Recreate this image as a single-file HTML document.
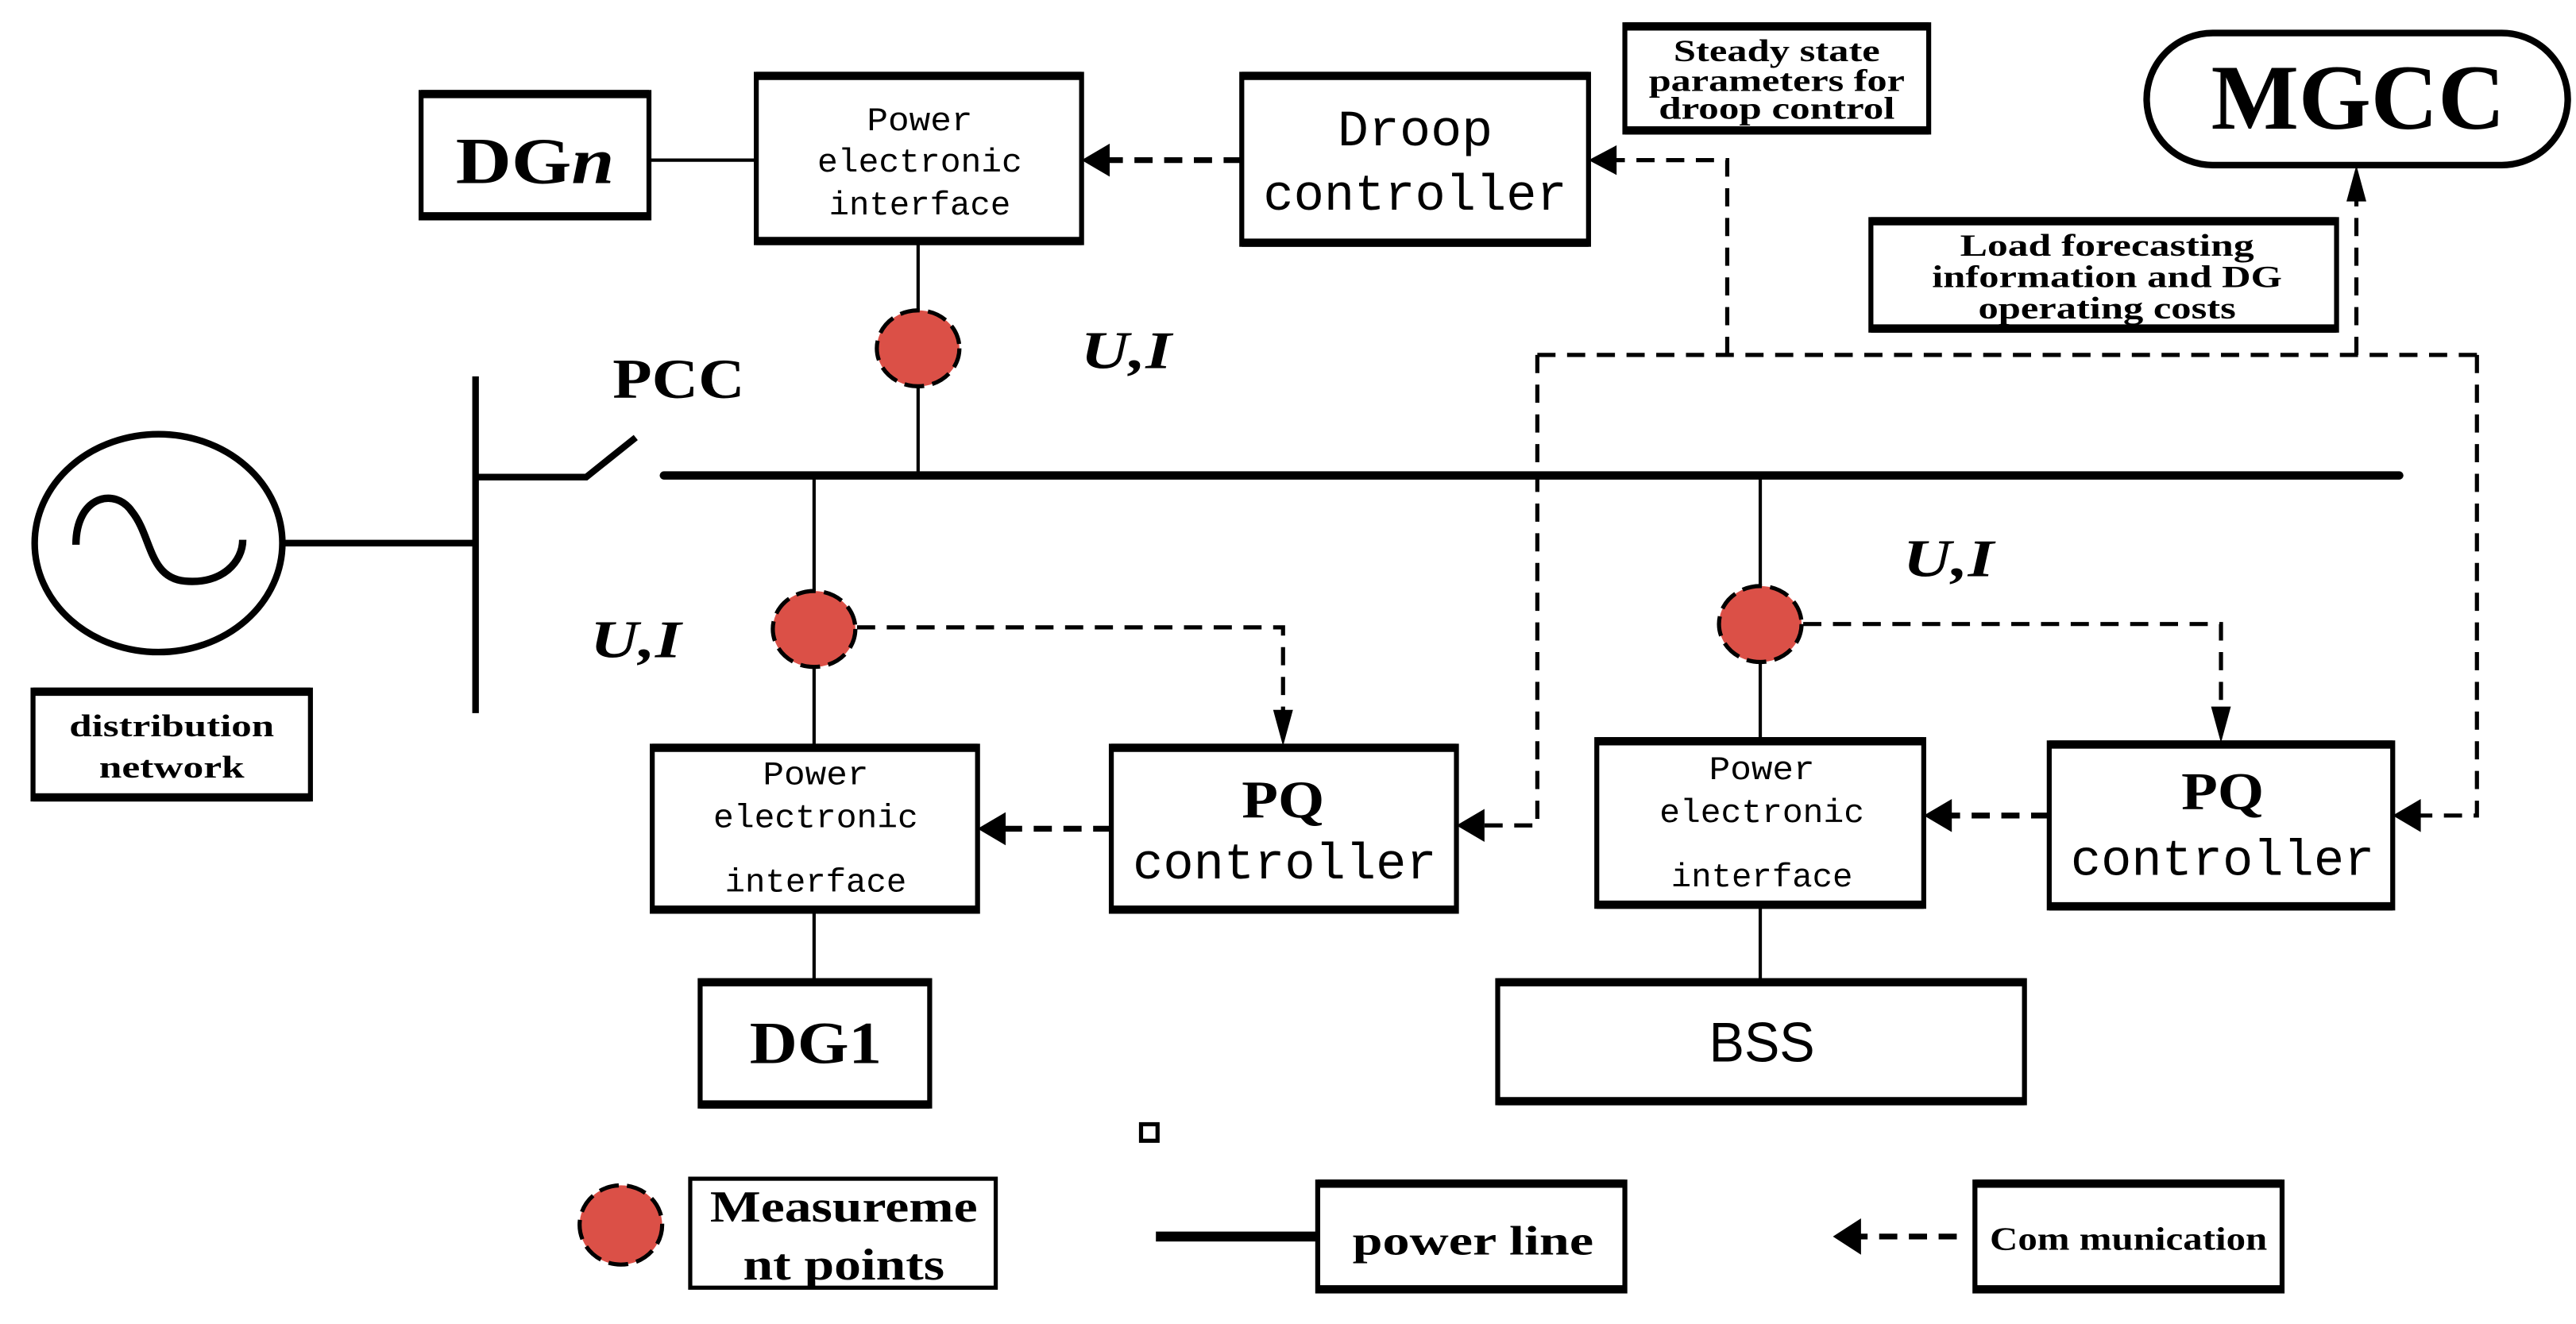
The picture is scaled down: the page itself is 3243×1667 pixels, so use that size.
<!DOCTYPE html>
<html><head><meta charset="utf-8"><style>html,body{margin:0;padding:0;background:#fff}svg{display:block}</style></head>
<body>
<svg width="3243" height="1667" viewBox="0 0 1560 802" preserveAspectRatio="none" xmlns="http://www.w3.org/2000/svg">
<g fill="none" stroke="#000">
<!-- generator -->
<ellipse cx="96" cy="329" rx="75" ry="66" stroke-width="4"/>
<path d="M46,330 C46,300 70,295 80,310 C92,325 90,350 112,352 C135,354 147,340 147,327" stroke-width="4.5"/>
<line x1="171" y1="329" x2="288" y2="329" stroke-width="4"/>
<line x1="288" y1="228" x2="288" y2="432" stroke-width="4"/>
<polyline points="288,289 355,289 385,265" stroke-width="4"/>
<line x1="402" y1="288" x2="1453" y2="288" stroke-width="5" stroke-linecap="round"/>
<!-- thin power lines -->
<line x1="393" y1="97" x2="458" y2="97" stroke-width="2"/>
<line x1="556" y1="147" x2="556" y2="288" stroke-width="2"/>
<line x1="493" y1="288" x2="493" y2="452" stroke-width="2"/>
<line x1="493" y1="552" x2="493" y2="594" stroke-width="2"/>
<line x1="1066" y1="288" x2="1066" y2="448" stroke-width="2"/>
<line x1="1066" y1="549" x2="1066" y2="594" stroke-width="2"/>
<!-- dashed comms -->
<g stroke-width="2.5" stroke-dasharray="11,7">
<line x1="752" y1="97" x2="668" y2="97" stroke-width="3.5"/>
<polyline points="1046,215 1046,97 975,97"/>
<line x1="931" y1="215" x2="1500" y2="215"/>
<line x1="1427" y1="215" x2="1427" y2="112"/>
<polyline points="931,215 931,500 895,500"/>
<polyline points="1500,215 1500,494 1462,494"/>
<polyline points="519,380 777,380 777,438"/>
<polyline points="1092,378 1345,378 1345,436"/>
<line x1="673" y1="502" x2="605" y2="502" stroke-width="3.5"/>
<line x1="1241" y1="494" x2="1178" y2="494" stroke-width="3.5"/>
<line x1="1185" y1="749" x2="1125" y2="749" stroke-width="3.5"/>
</g>
</g>
<!-- arrowheads -->
<g fill="#000">
<path d="M655,97 L672,87 L672,107 z"/>
<path d="M962,97 L979,88 L979,106 z"/>
<path d="M1427,100 L1421,122 L1433,122 z"/>
<path d="M882,500 L899,490 L899,510 z"/>
<path d="M1449,494 L1466,484 L1466,504 z"/>
<path d="M777,452 L771,430 L783,430 z"/>
<path d="M1345,450 L1339,428 L1351,428 z"/>
<path d="M592,502 L609,492 L609,512 z"/>
<path d="M1165,494 L1182,484 L1182,504 z"/>
<path d="M1110,749 L1127,738 L1127,760 z"/>
</g>
<!-- boxes -->
<g fill="none" stroke="#000" stroke-width="3">
<rect x="20" y="418" width="168" height="66"/>
<rect x="255" y="56" width="138" height="76"/>
<rect x="458" y="45" width="197" height="102"/>
<rect x="752" y="45" width="210" height="103"/>
<rect x="984" y="15" width="184" height="65"/>
<rect x="1300" y="20" width="255" height="80" rx="40" stroke-width="4"/>
<rect x="1133" y="133" width="282" height="67"/>
<rect x="395" y="452" width="197" height="100"/>
<rect x="673" y="452" width="209" height="100"/>
<rect x="424" y="594" width="139" height="76"/>
<rect x="967" y="448" width="198" height="101"/>
<rect x="1241" y="450" width="208" height="100"/>
<rect x="907" y="594" width="319" height="74"/>
<rect x="418" y="714" width="185" height="66" stroke-width="2.5"/>
<rect x="798" y="716" width="186" height="66"/>
<rect x="1196" y="716" width="186" height="66"/>
<rect x="691" y="681" width="10" height="10" stroke-width="2.5"/>
</g>
<!-- thick top/bottom borders -->
<g stroke="#000" stroke-width="5">
<path d="M20,419H188M20,483H188M255,57H393M255,131H393M458,46H655M458,146H655M752,46H962M752,147H962M984,16H1168M984,79H1168M1133,134H1415M1133,199H1415M395,453H592M395,551H592M673,453H882M673,551H882M424,595H563M424,669H563M967,449H1165M967,548H1165M1241,451H1449M1241,549H1449M907,595H1226M907,667H1226M798,717H984M798,781H984M1196,717H1382M1196,781H1382"/>
</g>
<line x1="700" y1="749" x2="797" y2="749" stroke="#000" stroke-width="6"/>
<!-- measurement dots -->
<g fill="#DB5047" stroke="#000" stroke-width="2.5" stroke-dasharray="12,5">
<ellipse cx="556" cy="211" rx="25" ry="23"/>
<ellipse cx="493" cy="381" rx="25" ry="23"/>
<ellipse cx="1066" cy="378" rx="25" ry="23"/>
<ellipse cx="376" cy="742" rx="25" ry="24"/>
</g>
<!-- text -->
<g font-family="'Liberation Serif',serif" font-weight="bold" fill="#000" text-anchor="middle">
<text x="411" y="241" font-size="34" textLength="80" lengthAdjust="spacingAndGlyphs">PCC</text>
<text x="104" y="446" font-size="19" textLength="124" lengthAdjust="spacingAndGlyphs">distribution</text>
<text x="104" y="471" font-size="19" textLength="88" lengthAdjust="spacingAndGlyphs">network</text>
<text x="324" y="111" font-size="40" textLength="96" lengthAdjust="spacingAndGlyphs">DG<tspan font-style="italic">n</tspan></text>
<text x="1076" y="37" font-size="19" textLength="125" lengthAdjust="spacingAndGlyphs">Steady state</text>
<text x="1076" y="55" font-size="19" textLength="155" lengthAdjust="spacingAndGlyphs">parameters for</text>
<text x="1076" y="72" font-size="19" textLength="143" lengthAdjust="spacingAndGlyphs">droop control</text>
<text x="1428" y="78" font-size="56" textLength="178" lengthAdjust="spacingAndGlyphs">MGCC</text>
<text x="1276" y="155" font-size="19" textLength="178" lengthAdjust="spacingAndGlyphs">Load forecasting</text>
<text x="1276" y="174" font-size="19" textLength="212" lengthAdjust="spacingAndGlyphs">information and DG</text>
<text x="1276" y="193" font-size="19" textLength="156" lengthAdjust="spacingAndGlyphs">operating costs</text>
<g font-style="italic" font-size="32">
<text x="682" y="223" textLength="55" lengthAdjust="spacingAndGlyphs">U,I</text>
<text x="385" y="398" textLength="55" lengthAdjust="spacingAndGlyphs">U,I</text>
<text x="1180" y="349" textLength="55" lengthAdjust="spacingAndGlyphs">U,I</text>
</g>
<text x="777" y="495" font-size="32" textLength="50" lengthAdjust="spacingAndGlyphs">PQ</text>
<text x="1346" y="490" font-size="32" textLength="50" lengthAdjust="spacingAndGlyphs">PQ</text>
<text x="494" y="644" font-size="36" textLength="80" lengthAdjust="spacingAndGlyphs">DG1</text>
<text x="511" y="740" font-size="27" textLength="162" lengthAdjust="spacingAndGlyphs">Measureme</text>
<text x="511" y="775" font-size="27" textLength="122" lengthAdjust="spacingAndGlyphs">nt points</text>
<text x="892" y="760" font-size="25" textLength="146" lengthAdjust="spacingAndGlyphs">power line</text>
<text x="1289" y="757" font-size="20" textLength="168" lengthAdjust="spacingAndGlyphs">Com munication</text>
</g>
<text x="1067" y="643" font-family="'Liberation Sans',sans-serif" font-size="34" text-anchor="middle" textLength="64" lengthAdjust="spacingAndGlyphs">BSS</text>
<g font-family="'Liberation Mono',monospace" fill="#000" text-anchor="middle">
<g font-size="20">
<text x="557" y="79" textLength="64" lengthAdjust="spacingAndGlyphs">Power</text>
<text x="557" y="104" textLength="124" lengthAdjust="spacingAndGlyphs">electronic</text>
<text x="557" y="130" textLength="110" lengthAdjust="spacingAndGlyphs">interface</text>
<text x="494" y="475" textLength="64" lengthAdjust="spacingAndGlyphs">Power</text>
<text x="494" y="501" textLength="124" lengthAdjust="spacingAndGlyphs">electronic</text>
<text x="494" y="540" textLength="110" lengthAdjust="spacingAndGlyphs">interface</text>
<text x="1067" y="472" textLength="64" lengthAdjust="spacingAndGlyphs">Power</text>
<text x="1067" y="498" textLength="124" lengthAdjust="spacingAndGlyphs">electronic</text>
<text x="1067" y="537" textLength="110" lengthAdjust="spacingAndGlyphs">interface</text>
</g>
<g font-size="31">
<text x="857" y="88" textLength="94" lengthAdjust="spacingAndGlyphs">Droop</text>
<text x="857" y="127" textLength="184" lengthAdjust="spacingAndGlyphs">controller</text>
<text x="778" y="532" textLength="184" lengthAdjust="spacingAndGlyphs">controller</text>
<text x="1346" y="530" textLength="184" lengthAdjust="spacingAndGlyphs">controller</text>
</g>
</g>
</svg>
</body></html>
